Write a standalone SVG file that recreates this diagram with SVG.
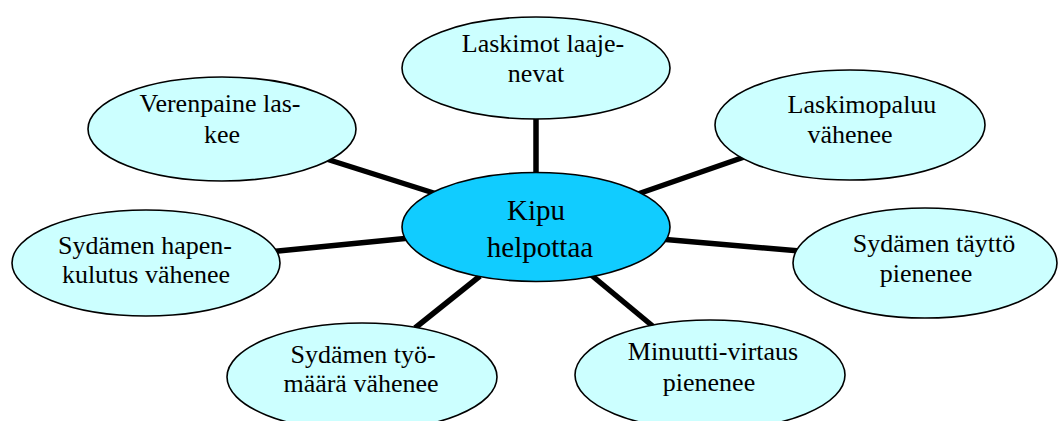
<svg xmlns="http://www.w3.org/2000/svg" width="1059" height="421" viewBox="0 0 1059 421">
<style>
.conn line{stroke:#000;stroke-width:5.5;stroke-linecap:butt}
.outer{fill:#ccffff;stroke:#000;stroke-width:1.6}
.center{fill:#11ccff;stroke:#000;stroke-width:1.6}
text{font-family:"Liberation Serif","Times New Roman",serif;font-size:26px;fill:#000;text-anchor:middle}
.big{font-size:29px}
</style>
<rect width="1059" height="421" fill="#fff"/>
<g id="connectors" class="conn">
<line x1="536" y1="110" x2="536" y2="180"/>
<line x1="320" y1="157" x2="440" y2="195"/>
<line x1="268" y1="252" x2="410" y2="238"/>
<line x1="750" y1="155" x2="632" y2="196"/>
<line x1="800" y1="251" x2="660" y2="239"/>
<line x1="655" y1="328" x2="590" y2="274"/>
<line x1="415" y1="328" x2="480" y2="276"/>
</g>
<g id="node-laskimot">
<ellipse class="outer" cx="536" cy="68" rx="134" ry="51"/>
<text x="543" y="52">Laskimot laaje-</text>
<text x="536" y="82">nevat</text>
</g>
<g id="node-verenpaine">
<ellipse class="outer" cx="222" cy="129" rx="134" ry="52"/>
<text x="220" y="112">Verenpaine las-</text>
<text x="222" y="143">kee</text>
</g>
<g id="node-laskimopaluu">
<ellipse class="outer" cx="850" cy="125" rx="135" ry="55"/>
<text x="862" y="113">Laskimopaluu</text>
<text x="850" y="143">vähenee</text>
</g>
<g id="node-hapenkulutus">
<ellipse class="outer" cx="146" cy="263" rx="134" ry="53"/>
<text x="145" y="254">Sydämen hapen-</text>
<text x="146" y="283">kulutus vähenee</text>
</g>
<g id="node-tayttö">
<ellipse class="outer" cx="925" cy="263" rx="132" ry="55"/>
<text x="934" y="252">Sydämen täyttö</text>
<text x="926" y="282">pienenee</text>
</g>
<g id="node-minuutti">
<ellipse class="outer" cx="710" cy="375" rx="135" ry="55"/>
<text x="713" y="360">Minuutti-virtaus</text>
<text x="709" y="391">pienenee</text>
</g>
<g id="node-tyomaara">
<ellipse class="outer" cx="362" cy="377" rx="135" ry="54"/>
<text x="363" y="363">Sydämen työ-</text>
<text x="361" y="392">määrä vähenee</text>
</g>
<g id="node-kipu">
<ellipse class="center" cx="536" cy="227" rx="134" ry="54.5"/>
<text class="big" x="536" y="220">Kipu</text>
<text class="big" x="540" y="257">helpottaa</text>
</g>
</svg>
